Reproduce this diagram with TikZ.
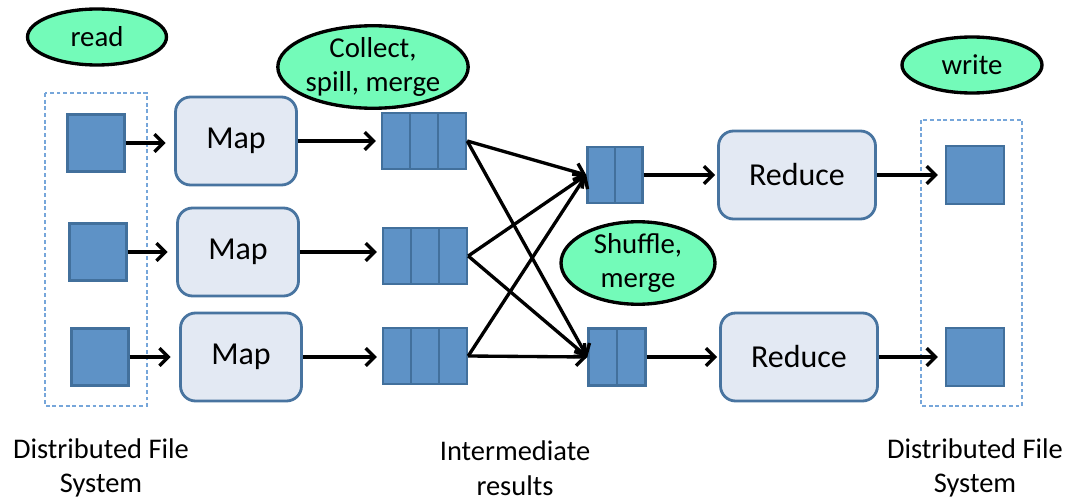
\documentclass[tikz,border=0pt]{standalone}
\usepackage{fontspec}
\setmainfont{Carlito}
\usetikzlibrary{shapes.geometric,arrows.meta,calc}

\definecolor{mint}{RGB}{115,251,185}
\definecolor{sqfill}{RGB}{94,146,198}
\definecolor{sqedge}{RGB}{66,112,156}
\definecolor{boxfill}{RGB}{227,233,243}
\definecolor{boxedge}{RGB}{72,116,160}
\definecolor{dashblue}{RGB}{118,166,218}

\tikzset{
  bubble/.style={ellipse, draw=black, fill=mint, line width=1.9pt, inner sep=0pt,
    align=center, font=\fontsize{16.4}{19}\selectfont},
  store/.style={draw=sqedge, fill=sqfill, line width=1.4pt, inner sep=0pt,
    minimum width=1.14cm, minimum height=1.14cm},
  cells/.style={store, path picture={
    \foreach \k in {1,...,#1}
      \draw[sqedge, line width=1.4pt]
        ($(path picture bounding box.south west)!{\k/(#1+1)}!(path picture bounding box.south east)$) --
        ($(path picture bounding box.north west)!{\k/(#1+1)}!(path picture bounding box.north east)$);}},
  taskbox/.style={draw=boxedge, fill=boxfill, line width=1.6pt, rounded corners=0.3cm,
    minimum height=1.76cm, font=\fontsize{18.2}{21}\selectfont},
  fsframe/.style={draw=dashblue, line width=0.6pt, dash pattern=on 2.2pt off 1.6pt},
  caption/.style={align=center, font=\fontsize{16.2}{19.7}\selectfont},
  flow/.style={line width=1.9pt, -{Straight Barb[length=5pt,width=10pt,line width=1.9pt]}},
}

\begin{document}
\begin{tikzpicture}[x=0.02cm, y=-0.02cm]
\useasboundingbox (0,0) rectangle (1069,500);

% file system frames
\draw[fsframe] (45,93) rectangle (147,406);
\draw[fsframe] (921,120) rectangle (1022,406);

% stage annotations
\node[bubble, minimum width=2.78cm, minimum height=1.12cm] (read) at (97,37) {read};
\node[bubble, minimum width=3.62cm, minimum height=1.6cm] (collect) at (373,67) {Collect,\\spill, merge};
\node[bubble, minimum width=3.08cm, minimum height=1.54cm] (shuffle) at (638,263) {Shuffle,\\merge};
\node[bubble, minimum width=2.8cm, minimum height=1.12cm] (write) at (972,65) {write};

% input splits
\node[store] (in1) at (96,143) {};
\node[store] (in2) at (98,252) {};
\node[store] (in3) at (100,357) {};

% map tasks
\node[taskbox, minimum width=2.42cm] (map1) at (236,141) {Map};
\node[taskbox, minimum width=2.42cm] (map2) at (238,252) {Map};
\node[taskbox, minimum width=2.42cm] (map3) at (241,357) {Map};

% map outputs
\node[cells=2, minimum width=1.68cm, minimum height=1.12cm] (mo1) at (424,141) {};
\node[cells=2, minimum width=1.68cm, minimum height=1.12cm] (mo2) at (425,256) {};
\node[cells=2, minimum width=1.68cm, minimum height=1.12cm] (mo3) at (425,356) {};

% reduce inputs
\node[cells=1, minimum width=1.1cm, minimum height=1.12cm] (ri1) at (615,175) {};
\node[cells=1, minimum width=1.14cm, minimum height=1.14cm] (ri2) at (617,357) {};

% reduce tasks
\node[taskbox, minimum width=3.14cm] (red1) at (797,175) {Reduce};
\node[taskbox, minimum width=3.14cm] (red2) at (799,357) {Reduce};

% outputs
\node[store, minimum width=1.16cm, minimum height=1.16cm] (out1) at (975,175) {};
\node[store, minimum width=1.16cm, minimum height=1.16cm] (out2) at (975,357) {};

% captions
\node[caption] (fsin) at (101,468) {Distributed File\\System};
\node[caption] (inter) at (515,468) {Intermediate\\results};
\node[caption] (fsout) at (975,468) {Distributed File\\System};

% data flow: straight runs leave each block horizontally
\foreach \i in {1,2,3} {
  \draw[flow, shorten >=0.17cm] (in\i.east) -- (in\i.east -| map\i.west);
  \draw[flow, shorten >=0.1cm] (map\i.east) -- (map\i.east -| mo\i.west);
  \foreach \j in {1,2}
    \draw[flow] (mo\i.east) -- (ri\j.west);
}
\foreach \j in {1,2} {
  \draw[flow, shorten >=0.04cm] (ri\j.east) -- (ri\j.east -| red\j.west);
  \draw[flow, shorten >=0.14cm] (red\j.east) -- (red\j.east -| out\j.west);
}
\end{tikzpicture}
\end{document}
